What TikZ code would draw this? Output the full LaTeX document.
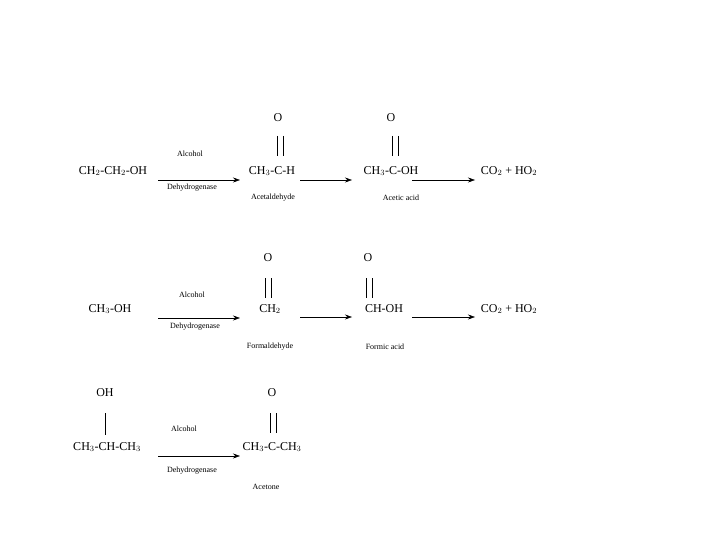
\documentclass[tikz,border=0pt]{standalone}
\usepackage{fontspec}
\setmainfont{Liberation Serif}
\usetikzlibrary{arrows.meta}
\begin{document}
\begin{tikzpicture}[x=1pt,y=-1pt,
  chem/.style={font=\fontsize{12}{14}\selectfont,inner sep=0pt},
  lbl/.style={font=\fontsize{8}{10}\selectfont,inner sep=0pt},
  rxn/.style={-{Stealth[length=7pt,width=5pt]},line width=0.6pt},
  bond/.style={line width=0.6pt}]
\useasboundingbox (0,0) rectangle (720,540);
% Row 1
\node[chem] (a1) at (113,171) {CH$_2$-CH$_2$-OH};
\node[lbl] (al1) at (190,154) {Alcohol};
\node[lbl] (dh1) at (192,188) {Dehydrogenase};
\node[chem] (b1) at (272,171) {CH$_3$-C-H};
\node[chem] (o1) at (278,118) {O};
\node[lbl] (n1) at (273,198) {Acetaldehyde};
\node[chem] (c1) at (391,171) {CH$_3$-C-OH};
\node[chem] (o2) at (391,118) {O};
\node[lbl] (n2) at (401,198) {Acetic acid};
\node[chem] (d1) at (509,171) {CO$_2$ + HO$_2$};
\coordinate (s1) at (158,180); \coordinate (e1) at (240,180);
\coordinate (s2) at (300,180); \coordinate (e2) at (352,180);
\coordinate (s3) at (412,180); \coordinate (e3) at (475,180);
\draw[rxn] (s1) -- (e1); \draw[rxn] (s2) -- (e2); \draw[rxn] (s3) -- (e3);
\draw[bond] (277,136) -- (277,156) (283,136) -- (283,156);
\draw[bond] (392,136) -- (392,156) (398,136) -- (398,156);
% Row 2
\node[chem] (a2) at (110,309) {CH$_3$-OH};
\node[lbl] (al2) at (192,295) {Alcohol};
\node[lbl] (dh2) at (195,327) {Dehydrogenase};
\node[chem] (b2) at (270,309) {CH$_2$};
\node[chem] (o3) at (268,258) {O};
\node[lbl] (n3) at (270,347) {Formaldehyde};
\node[chem] (c2) at (384,309) {CH-OH};
\node[chem] (o4) at (368,258) {O};
\node[lbl] (n4) at (385,347) {Formic acid};
\node[chem] (d2) at (509,309) {CO$_2$ + HO$_2$};
\coordinate (s4) at (158,318); \coordinate (e4) at (240,318);
\coordinate (s5) at (300,317); \coordinate (e5) at (352,317);
\coordinate (s6) at (412,317); \coordinate (e6) at (475,317);
\draw[rxn] (s4) -- (e4); \draw[rxn] (s5) -- (e5); \draw[rxn] (s6) -- (e6);
\draw[bond] (265,278) -- (265,298) (271,278) -- (271,298);
\draw[bond] (366,278) -- (366,298) (372,278) -- (372,298);
% Row 3
\node[chem] (oh) at (105,393) {OH};
\node[chem] (a3) at (107,447) {CH$_3$-CH-CH$_3$};
\node[lbl] (al3) at (184,429) {Alcohol};
\node[lbl] (dh3) at (192,471) {Dehydrogenase};
\node[chem] (o5) at (272,393) {O};
\node[chem] (b3) at (272,447) {CH$_3$-C-CH$_3$};
\node[lbl] (n5) at (266,487) {Acetone};
\coordinate (s7) at (158,456); \coordinate (e7) at (240,456);
\draw[rxn] (s7) -- (e7);
\draw[bond] (105,413) -- (105,435);
\draw[bond] (270,413) -- (270,433) (276,413) -- (276,433);
\end{tikzpicture}
\end{document}
